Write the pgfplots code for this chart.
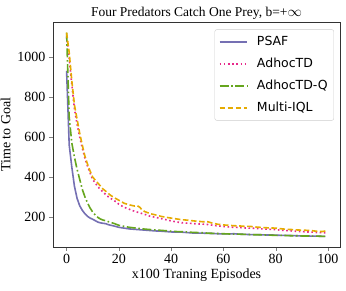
\documentclass[border=0pt]{standalone}
\usepackage{fontspec}
\setmainfont{Liberation Serif}
\newfontfamily\dejavu{DejaVu Sans}
\usepackage{pgfplots}
\pgfplotsset{compat=1.18}
\definecolor{cpsaf}{HTML}{7570B3}
\definecolor{cadhoc}{HTML}{E7298A}
\definecolor{cadhocq}{HTML}{66A61E}
\definecolor{ciql}{HTML}{E6AB02}
\begin{document}
\begin{tikzpicture}
\begin{axis}[
  scale only axis, width=287pt, height=225pt,
  xmin=-5.2, xmax=104.6, ymin=52, ymax=1173,
  xtick={0,20,40,60,80,100}, ytick={200,400,600,800,1000},
  tick align=outside, tick pos=left,
  major tick length=4pt,
  /pgf/number format/assume math mode=true,
  /pgf/number format/set thousands separator={},
  tick label style={font=\fontsize{14}{16}\selectfont},
  xlabel={x100 Traning Episodes}, ylabel={Time to Goal},
  label style={font=\fontsize{14}{16}\selectfont},
  xlabel style={yshift=2pt},
  title={Four Predators Catch One Prey, b=+$\infty$},
  title style={font=\fontsize{13.5}{15}\selectfont, yshift=-7pt},
  axis line style={black!80, line width=0.8pt},
  legend style={at={(0.979,0.967)}, anchor=north east, font=\dejavu\fontsize{12.5}{14}\selectfont,
    draw=black!20, rounded corners=2pt, row sep=7pt, inner xsep=4pt, inner ysep=5pt},
  legend cell align=left,
  legend image code/.code={\draw[#1, line width=1.6pt] (0pt,0pt) -- (27.6pt,0pt);},
  every axis plot/.append style={line width=1.6pt},
]
\pgfplotsset{/tikz/every odd column/.append style={column sep=7pt}}
\addplot[cpsaf, solid] coordinates {
(0,930)(1,560)(2,450)(3,355)(4,295)(5,258)(6,235)(7,218)(8,205)(9,196)(10,190)(11,183)(12,176)(13,172)(14,170)(15,168)(16,163)(18,157)(20,150)(22,146)(24,142)(26,140)(28,138)(30,136)(32,134)(34,132)(36,131)(38,129)(40,127)(42,126)(44,126)(46,124)(48,122)(50,121)(52,121)(54,120)(56,119)(58,118)(60,117)(62,117)(64,118)(66,116)(68,115)(70,114)(72,114)(74,113)(76,112)(78,112)(80,111)(82,110)(84,110)(86,109)(88,108)(90,107)(92,107)(94,106)(96,106)(98,105)(99,105)};
\addlegendentry{PSAF}
\addplot[cadhoc, dash pattern=on 1.6pt off 2.6pt] coordinates {
(0,1100)(1,990)(2,860)(3,740)(4,665)(5,600)(6,545)(7,495)(8,455)(9,420)(10,388)(11,370)(12,352)(13,338)(14,325)(15,313)(16,302)(17,293)(18,285)(19,276)(20,265)(22,250)(24,240)(26,230)(28,222)(30,214)(32,205)(34,200)(36,194)(38,188)(40,182)(42,177)(44,173)(46,171)(48,169)(50,167)(52,166)(54,164)(56,160)(58,157)(60,154)(62,152)(64,150)(66,149)(68,147)(70,146)(72,145)(74,143)(76,141)(78,140)(80,138)(82,136)(84,134)(86,132)(88,130)(90,129)(92,127)(94,126)(96,124)(98,123)(99,122)};
\addlegendentry{AdhocTD}
\addplot[cadhocq, dash pattern=on 9pt off 2.6pt on 1.6pt off 2.6pt] coordinates {
(0,1120)(1,700)(2,570)(3,500)(4,440)(5,390)(6,340)(7,302)(8,272)(9,246)(10,226)(11,211)(12,199)(13,191)(14,186)(15,183)(16,178)(18,170)(20,160)(22,155)(24,150)(26,147)(28,144)(30,141)(32,139)(34,137)(36,135)(38,133)(40,131)(42,129)(44,128)(46,127)(48,125)(50,124)(52,123)(54,121)(56,120)(58,119)(60,118)(62,117)(64,116)(66,116)(68,115)(70,114)(72,113)(74,113)(76,112)(78,111)(80,110)(82,110)(84,109)(86,108)(88,108)(90,107)(92,107)(94,106)(96,106)(98,105)(99,105)};
\addlegendentry{AdhocTD-Q}
\addplot[ciql, dash pattern=on 5.5pt off 2.6pt] coordinates {
(0,1120)(1,1020)(2,880)(3,760)(4,690)(5,620)(6,560)(7,505)(8,465)(9,430)(10,400)(11,385)(12,370)(13,355)(14,340)(15,330)(16,318)(17,308)(18,300)(19,292)(20,285)(21,278)(22,270)(24,262)(26,256)(27,258)(28,250)(29,235)(30,228)(32,218)(34,212)(36,205)(38,200)(40,196)(42,192)(44,188)(46,186)(48,183)(50,180)(52,178)(54,178)(56,170)(58,165)(60,162)(62,160)(64,158)(66,157)(68,155)(70,155)(72,152)(74,150)(76,148)(78,147)(80,146)(82,143)(84,140)(86,139)(88,137)(90,136)(92,135)(94,133)(96,130)(98,129)(99,132)};
\addlegendentry{Multi-IQL}
\end{axis}
\pgfresetboundingbox
\path ([xshift=-53pt,yshift=-44pt]current axis.south west) rectangle ([xshift=6pt,yshift=22pt]current axis.north east);
\end{tikzpicture}
\end{document}
